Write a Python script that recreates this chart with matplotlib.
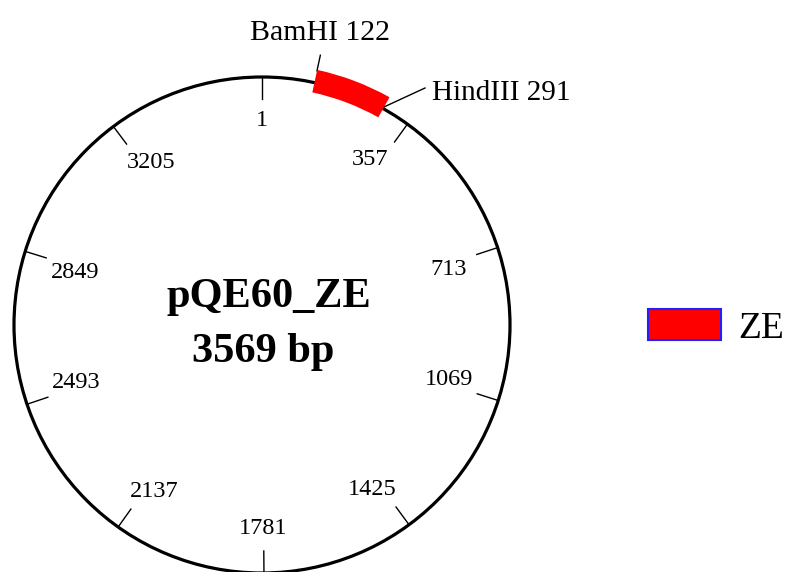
import numpy as np
import matplotlib
matplotlib.use("Agg")
import matplotlib.pyplot as plt
from matplotlib.patches import Circle, Wedge, Rectangle

# ---- data ----
plasmid_name = "pQE60_ZE"
plasmid_len = 3569
tick_positions = [1, 357, 713, 1069, 1425, 1781, 2137, 2493, 2849, 3205]
feature_name = "ZE"
feature_start = 122
feature_end = 291
site_names = ["BamHI", "HindIII"]
site_positions = [122, 291]

# ---- layout ----
W, H = 788, 572
fig = plt.figure(figsize=(W / 100, H / 100), dpi=100)
ax = fig.add_axes([0, 0, 1, 1])
ax.set_xlim(0, W)
ax.set_ylim(0, H)
ax.set_aspect("equal")
ax.axis("off")

cx, cy = 262, H - 325
R = 248
serif = ["Liberation Serif", "DejaVu Serif"]


def ang(pos):
    """clockwise angle from top in degrees"""
    return (pos - 1) / plasmid_len * 360.0


def pt(pos, r):
    a = np.deg2rad(ang(pos))
    return cx + r * np.sin(a), cy + r * np.cos(a)


def label_pt(pos):
    a = np.deg2rad(ang(pos))
    s, c = np.sin(a), np.cos(a)
    rx = np.interp(abs(s), [0.59, 0.95], [185, 196])
    ry = np.interp(abs(c), [0.31, 0.81], [178, 204])
    return cx + rx * s, cy + ry * c


ax.add_patch(Circle((cx, cy), R, fill=False, lw=2.3, ec="black", zorder=2))

# ticks + labels
for p in tick_positions:
    x0, y0 = pt(p, R)
    x1, y1 = pt(p, R - 22)
    ax.plot([x0, x1], [y0, y1], color="black", lw=1.0, zorder=2)
    lx, ly = label_pt(p)
    ax.text(lx, ly, str(p), ha="center", va="center", fontsize=17.5,
            family=serif, color="black")

# feature arc
t1 = 90 - ang(feature_end)
t2 = 90 - ang(feature_start)
ax.add_patch(Wedge((cx, cy), R + 13, t1, t2, width=23, fc="#ff0000",
                   ec="none", zorder=3))

# restriction sites
x0, y0 = pt(site_positions[0], R + 12)
x1, y1 = pt(site_positions[0], R + 28)
ax.plot([x0, x1], [y0, y1], color="black", lw=1.0)
ax.text(x1, H - 40, f"{site_names[0]} {site_positions[0]}", ha="center",
        va="baseline", fontsize=21.5, family=serif)

x0, y0 = pt(site_positions[1], R + 2)
ax.plot([x0, 425], [y0, H - 88], color="black", lw=1.0)
ax.text(432, H - 100, f"{site_names[1]} {site_positions[1]}", ha="left",
        va="baseline", fontsize=21, family=serif)

# center title
ax.text(cx + 7, H - 307, plasmid_name, ha="center", va="baseline",
        fontsize=30.5, fontweight="bold", family=serif)
ax.text(cx + 1, H - 362, f"{plasmid_len} bp", ha="center", va="baseline",
        fontsize=30.5, fontweight="bold", family=serif)

# legend
ax.add_patch(Rectangle((648, H - 340), 73, 31, fc="#ff0000", ec="#2020ff",
                       lw=1.5))
ax.text(738, H - 338, feature_name, ha="left", va="baseline", fontsize=27,
        family=serif)

fig.savefig("out.png", dpi=100)
